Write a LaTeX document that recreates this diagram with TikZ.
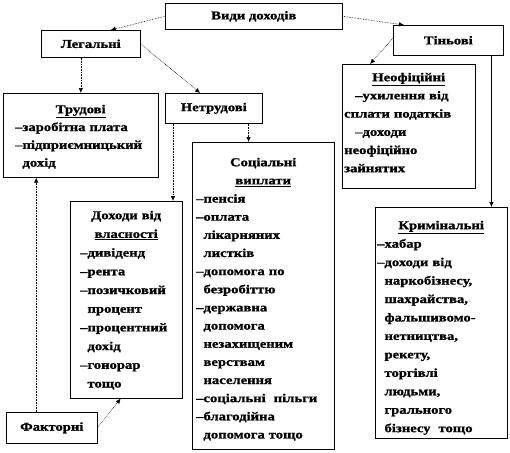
\documentclass[tikz,border=0pt]{standalone}
\usepackage{fontspec}
\setmainfont{Liberation Serif}[FakeStretch=1.22, BoldFeatures={FakeBold=1.2}]
\usetikzlibrary{arrows.meta,calc}
\begin{document}
\begin{tikzpicture}[x=1pt,y=-1pt,
  box/.style={draw, line width=0.6pt, anchor=north west, inner sep=0pt,
    font=\bfseries\fontsize{12}{14}\selectfont},
  txt/.style={anchor=north west, inner sep=0pt, font=\bfseries\fontsize{12}{#1}\selectfont},
  con/.style={densely dotted, line width=0.6pt, -{Latex[length=5pt,width=4.5pt]}},
  sol/.style={line width=0.6pt, -{Latex[length=5pt,width=4.5pt]}}]
\useasboundingbox (0,0) rectangle (510,452);
% boxes
\node[box, minimum width=177pt, minimum height=26pt] (vydy) at (165,3) {Види доходів};
\node[box, minimum width=99pt, minimum height=27pt] (legal) at (41,30) {Легальні};
\node[box, minimum width=110pt, minimum height=30pt] (tin) at (393,25) {Тіньові};
\node[box, minimum width=155pt, minimum height=84pt] (trud) at (3,93) {};
\node[box, minimum width=97pt, minimum height=30pt] (netrud) at (165,93) {Нетрудові};
\node[box, minimum width=133pt, minimum height=124pt] (neof) at (342,64) {};
\node[box, minimum width=142pt, minimum height=307pt] (soc) at (192,142) {};
\node[box, minimum width=112pt, minimum height=197pt] (vlas) at (70,201) {};
\node[box, minimum width=132pt, minimum height=231pt] (krim) at (375,207) {};
\node[box, minimum width=91pt, minimum height=31pt] (fakt) at (6,412) {Факторні};
% texts
\node[txt=17.8, text width=131pt] (trudt) at (15,104) {%
  {\centering\rule{0pt}{9pt}\underline{Трудові}\par}\raggedright
  –заробітна плата\\–підприємницький\\\phantom{–}дохід};
\node[txt=18.7, text width=92pt] (vlast) at (80,210) {%
  {\centering\rule{0pt}{9pt}Доходи від\\\underline{власності}\par}\raggedright
  –дивіденд\\–рента\\–позичковий\\\phantom{–}процент\\–процентний\\\phantom{–}дохід\\–гонорар\\\phantom{–}тощо};
\node[txt=18.15, text width=134pt] (soct) at (196,157) {%
  {\centering\rule{0pt}{9pt}Соціальні\\\underline{виплати}\par}\raggedright
  –пенсія\\–оплата\\\phantom{–}лікарняних\\\phantom{–}листків\\–допомога по\\\phantom{–}безробіттю\\
  –державна\\\phantom{–}допомога\\\phantom{–}незахищеним\\\phantom{–}верствам\\\phantom{–}населення\\
  –соціальні\ \ пільги\\–благодійна\\\phantom{–}допомога тощо};
\node[txt=18.2, text width=129pt] (neoft) at (344,72) {%
  {\centering\rule{0pt}{9pt}\underline{Неофіційні}\par}\raggedright
  \hspace*{11pt}–ухилення від\\сплати податків\\\hspace*{11pt}–доходи\\неофіційно\\зайнятих};
\node[txt=18.45, text width=128pt] (krimt) at (377,220) {%
  {\centering\rule{0pt}{9pt}\underline{Кримінальні}\par}\raggedright
  –хабар\\–доходи від\\\phantom{–}наркобізнесу,\\\phantom{–}шахрайства,\\\phantom{–}фальшивомо-\\
  \phantom{–}нетництва,\\\phantom{–}рекету,\\\phantom{–}торгівлі\\\phantom{–}людьми,\\\phantom{–}грального\\
  \phantom{–}бізнесу\ \ тощо};
% connectors
\draw[con] (vydy.west) -- ($(legal.north west)!0.7!(legal.north east)$);
\draw[con] (vydy.east) -- ($(tin.north west)!0.1!(tin.north east)$);
\coordinate (l1) at ($(legal.south west)!0.4!(legal.south east)$);
\draw[con] (l1) -- (l1 |- trud.north);
\draw[con] (legal.east) -- ($(netrud.north west)!0.36!(netrud.north east)$);
\draw[con] ($(tin.north west)!0.43!(tin.south west)$) -- ($(neof.north west)!0.21!(neof.north east)$);
\coordinate (t1) at ($(tin.south west)!0.89!(tin.south east)$);
\draw[sol] (t1) -- (t1 |- krim.north);
\coordinate (n1) at ($(netrud.south west)!0.856!(netrud.south east)$);
\draw[con] (n1) -- (n1 |- soc.north);
\coordinate (n2) at ($(netrud.south west)!0.082!(netrud.south east)$);
\draw[con] (n2) -- (n2 |- vlas.north);
\coordinate (f1) at ($(fakt.north west)!0.33!(fakt.north east)$);
\draw[con] (f1) -- (f1 |- trud.south);
\draw[con] (fakt.east) -- ($(vlas.south west)!0.45!(vlas.south east)$);
\end{tikzpicture}
\end{document}
